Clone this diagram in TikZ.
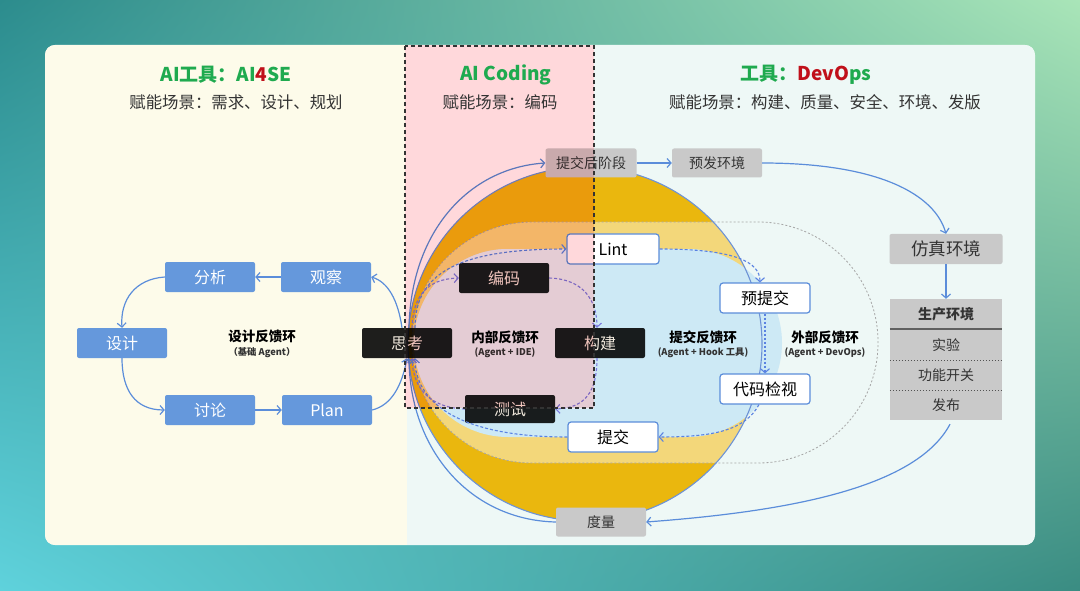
\documentclass[tikz,border=0pt]{standalone}
\usepackage{fontspec}
\setmainfont{Noto Sans CJK SC}
\usetikzlibrary{arrows.meta,calc,shadings}
\definecolor{bluebox}{HTML}{6598DC}
\definecolor{arrowblue}{HTML}{5B8DDA}
\definecolor{graybox}{HTML}{C9C9C9}
\definecolor{cream}{HTML}{FDFBEA}
\definecolor{mint}{HTML}{EEF8F6}
\definecolor{golden}{HTML}{EAB70E}
\definecolor{cyanb}{HTML}{CDE9F5}
\definecolor{cyanlight}{HTML}{E4F1F7}
\definecolor{pinkov}{HTML}{FFD8DB}
\definecolor{titlegreen}{HTML}{1FAA4F}
\definecolor{titlered}{HTML}{C0101A}
\definecolor{loopblue}{HTML}{5A82E2}
\definecolor{innerpurple}{HTML}{7A78E0}
\definecolor{textdark}{HTML}{333333}
\definecolor{textlight}{HTML}{F0E8DC}
\definecolor{circleedge}{HTML}{6E93D6}
\newcommand\fs[1]{\fontsize{#1}{#1}\selectfont}
\tikzset{
  bluenode/.style={fill=bluebox, text=white, rounded corners=2pt, minimum width=90pt, minimum height=30pt, inner sep=0pt, font=\fs{16}},
  darknode/.style={fill=black, fill opacity=0.88, text opacity=1, text=textlight, rounded corners=2pt, minimum width=90pt, minimum height=30pt, inner sep=0pt, font=\fs{16}},
  graynode/.style={fill=graybox, text=textdark, rounded corners=2pt, minimum width=90pt, minimum height=29pt, inner sep=0pt, font=\fs{14}},
  stacknode/.style={fill=graybox, text=textdark, minimum width=112pt, minimum height=30pt, inner sep=0pt, font=\fs{14}},
  whitenode/.style={fill=white, draw=arrowblue, line width=1.2pt, text=black, rounded corners=3pt, minimum width=90pt, minimum height=30pt, inner sep=0pt, font=\fs{16}},
  looplabel/.style={text=black, font=\bfseries\fs{13.5}, inner sep=0pt},
  loopsub/.style={text=textdark, font=\bfseries\fs{9.3}, inner sep=0pt},
  flow/.style={draw=arrowblue, line width=1.2pt, -{Straight Barb[length=4pt,width=9pt]}},
  loopb/.style={draw=loopblue, line width=1.1pt, dash pattern=on 3pt off 2pt, -{Straight Barb[length=4pt,width=9pt]}},
  loopi/.style={draw=innerpurple, line width=1.1pt, dash pattern=on 3pt off 2pt, -{Straight Barb[length=4pt,width=9pt]}},
}
\begin{document}
\begin{tikzpicture}[x=1pt,y=-1pt]
\useasboundingbox (0,0) rectangle (1080,591);
% outer background
\shade[upper left={rgb,255:red,44;green,140;blue,141}, upper right={rgb,255:red,169;green,229;blue,184},
       lower left={rgb,255:red,95;green,210;blue,220}, lower right={rgb,255:red,58;green,140;blue,130}]
  (0,0) rectangle (1080,591);
% card
\fill[white, rounded corners=10pt] (45,45) rectangle (1035,545);
\begin{scope}
  \clip[rounded corners=10pt] (45,45) rectangle (1035,545);
  \fill[cream] (45,45) rectangle (407,545);
  \fill[mint] (407,45) rectangle (1035,545);
  \fill[white] (405,45) rectangle (594,408);
\end{scope}

% big circle with bands
\coordinate (C) at (585,344);
\fill[golden] (C) circle[radius=177];
\begin{scope}
  \clip (C) circle[radius=177];
  \fill[white, fill opacity=0.45, rounded corners=120pt] (412,222) rectangle (878,463);
\end{scope}
\fill[cyanb, rounded corners=94pt] (414,249) rectangle (782,437);
\begin{scope}
  \clip (405,45) rectangle (594,408);
  \fill[cyanlight, rounded corners=94pt] (414,249) rectangle (782,437);
\end{scope}
\draw[gray!70, line width=0.8pt, dash pattern=on 2pt off 2pt, rounded corners=120pt] (412,222) rectangle (878,463);
\draw[circleedge, line width=1.1pt] (C) circle[radius=177];

% left loop nodes
\node[bluenode] (analyze) at (210,277) {分析};
\node[bluenode] (observe) at (326,277) {观察};
\node[bluenode] (design) at (122,343) {设计};
\node[bluenode] (discuss) at (210,410) {讨论};
\node[bluenode] (plan) at (327,410) {Plan};
\node[looplabel] (l1) at (262,336) {设计反馈环};
\node[loopsub] (l1s) at (262,353) {（基础 Agent）};

% center nodes
\node[darknode] (think) at (407,343) {思考};
\node[darknode] (code) at (504,278) {编码};
\node[darknode] (build) at (600,343) {构建};
\node[darknode, minimum height=28pt] (test) at (510,409) {测试};
\node[looplabel] (l2) at (505,337) {内部反馈环};
\node[loopsub] (l2s) at (505,353) {(Agent + IDE)};

\node[whitenode, minimum width=92pt] (lint) at (613,249) {Lint};
\node[whitenode] (submit) at (613,437) {提交};
\node[whitenode] (precommit) at (765,298) {预提交};
\node[whitenode] (review) at (765,389) {代码检视};
\node[looplabel] (l3) at (703,337) {提交反馈环};
\node[loopsub] (l3s) at (703,353) {(Agent + Hook 工具)};
\node[looplabel] (l4) at (825,337) {外部反馈环};
\node[loopsub] (l4s) at (825,353) {(Agent + DevOps)};

% gray nodes
\node[graynode, minimum width=91pt] (postc) at (591,163) {提交后阶段};
\node[graynode] (staging) at (717,163) {预发环境};
\node[graynode, minimum width=113pt, minimum height=30pt, font=\fs{17.5}] (sim) at (946,249) {仿真环境};
\node[stacknode, font=\bfseries\fs{14}] (prodhead) at (946,314) {生产环境};
\node[stacknode] (exp) at (946,345) {实验};
\node[stacknode] (feat) at (946,375) {功能开关};
\node[stacknode] (rel) at (946,405) {发布};
\draw[gray!75!black, line width=1.5pt] (prodhead.south west) -- (prodhead.south east);
\draw[gray!65!black, line width=0.8pt, dash pattern=on 1.5pt off 1.5pt] (exp.south west) -- (exp.south east);
\draw[gray!65!black, line width=0.8pt, dash pattern=on 1.5pt off 1.5pt] (feat.south west) -- (feat.south east);
\node[graynode] (metric) at (601,522) {度量};

% submit feedback loop
\draw[loopb] ($(think.north)+(8,0)$) .. controls (415,275) and (455,249) .. (lint.west);
\draw[loopb] (lint.east) .. controls (735,249) and (760,262) .. ($(precommit.north)+(-5,0)$);
\draw[loopb, dash pattern=on 2pt off 2pt] (precommit.south) -- (review.north);
\draw[loopb] ($(review.south)+(-6,0)$) .. controls (745,430) and (715,437) .. (submit.east);
\draw[loopb] (submit.west) .. controls (455,437) and (415,400) .. ($(think.south)+(8,0)$);

% inner loop
\draw[loopi] ($(think.north)+(5,0)$) .. controls (413,295) and (428,279) .. (code.west);
\draw[loopi] (code.east) .. controls (583,279) and (597,300) .. ($(build.north)+(-3,0)$);
\draw[loopi] ($(build.south)+(-3,0)$) .. controls (597,392) and (585,408) .. (test.east);
\draw[loopi] (test.west) .. controls (432,408) and (413,390) .. ($(think.south)+(5,0)$);

% solid flows
\draw[flow] (observe.west) -- (analyze.east);
\draw[flow] (analyze.west) .. controls (135,279) and (120,300) .. (design.north);
\draw[flow] (design.south) .. controls (122,390) and (135,410) .. (discuss.west);
\draw[flow] (discuss.east) -- (plan.west);
\draw[flow] (plan.east) .. controls (392,405) and (402,385) .. (think.south);
\draw[flow] ($(think.north)+(-5,0)$) .. controls (398,300) and (388,282) .. (observe.east);
\draw[flow] ($(think.north)+(2,0)$) .. controls (411,230) and (470,168) .. (postc.west);
\draw[flow] (metric.west) .. controls (470,520) and (410,450) .. ($(think.south)+(2,0)$);
\draw[flow] (postc.east) -- (staging.west);
\draw[flow] (staging.east) .. controls (880,163) and (935,195) .. (sim.north);
\draw[flow] (sim.south) -- (prodhead.north);
\draw[flow] ($(rel.south)+(4,4)$) .. controls (915,490) and (780,512) .. (metric.east);

% AI Coding overlay
\begin{scope}[blend mode=multiply]
  \fill[pinkov] (405,45) rectangle (594,408);
\end{scope}
\draw[black!80, line width=1.1pt, dash pattern=on 4pt off 3pt] (405,46) rectangle (594,408);

% headers
\node[font=\bfseries\fs{19}, text=titlegreen] (h1) at (226,75) {AI工具：AI\textcolor{titlered}{4}SE};
\node[font=\fs{16.4}, text=textdark] (h1s) at (236,102) {赋能场景：需求、设计、规划};
\node[font=\bfseries\fs{19}, text=titlegreen] (h2) at (506,75) {AI Coding};
\node[font=\fs{16.4}, text=textdark] (h2s) at (500,102) {赋能场景：编码};
\node[font=\bfseries\fs{19}, text=titlegreen] (h3) at (806,75) {工具：\textcolor{titlered}{DevO}ps};
\node[font=\fs{16.4}, text=textdark] (h3s) at (825,102) {赋能场景：构建、质量、安全、环境、发版};
\end{tikzpicture}
\end{document}
